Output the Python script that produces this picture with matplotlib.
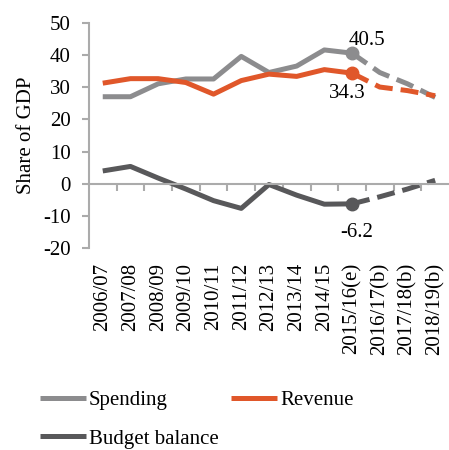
import numpy as np
import matplotlib
matplotlib.use("Agg")
import matplotlib.pyplot as plt

plt.rcParams['font.family'] = ['Liberation Serif', 'DejaVu Serif']
plt.rcParams['font.size'] = 15
plt.rcParams['axes.unicode_minus'] = False

years = ["2006/07", "2007/08", "2008/09", "2009/10", "2010/11", "2011/12",
         "2012/13", "2013/14", "2014/15", "2015/16(e)", "2016/17(b)",
         "2017/18(b)", "2018/19(b)"]
spending = [27.0, 27.0, 31.0, 32.5, 32.5, 39.5, 34.5, 36.5, 41.5, 40.5, 34.5, 31.0, 26.8]
revenue = [31.2, 32.6, 32.6, 31.4, 27.8, 32.0, 34.0, 33.3, 35.4, 34.3, 30.0, 28.9, 27.3]
balance = [4.0, 5.4, 1.8, -1.6, -5.2, -7.6, -0.2, -3.5, -6.3, -6.2, -4.0, -1.6, 1.1]

c_spend = "#8c8c8e"
c_rev = "#e0572a"
c_bal = "#58585a"
c_axis = "#ababab"

split = 9  # 2015/16 onwards is estimate / budget

fig = plt.figure(figsize=(4.49, 4.5), dpi=100)
ax = fig.add_axes([0.198, 0.448, 0.802, 0.502])

x = np.arange(len(years))
lw = 3.6
series = [(spending, c_spend, "Spending"), (revenue, c_rev, "Revenue"),
          (balance, c_bal, "Budget balance")]
handles = []
for vals, col, lab in series:
    h, = ax.plot(x[:split + 1], vals[:split + 1], color=col, lw=lw,
                 solid_capstyle='butt', label=lab)
    ax.plot(x[split:], vals[split:], color=col, lw=lw, dashes=(3.6, 1.6))
    ax.plot(x[split], vals[split], 'o', color=col, ms=9)
    handles.append(h)

ax.annotate(f"{spending[split]:.1f}", (x[split], spending[split]),
            xytext=(11, 9), textcoords='offset points', ha='center', va='center')
ax.annotate(f"{revenue[split]:.1f}", (x[split], revenue[split]),
            xytext=(-3.5, -14.5), textcoords='offset points', ha='center', va='center')
ax.annotate(f"{balance[split]:.1f}", (x[split], balance[split]),
            xytext=(3, -20.5), textcoords='offset points', ha='center', va='center')

ax.set_xlim(-0.5, len(years) - 0.5)
ax.set_ylim(-20, 50)
ax.set_yticks(range(-20, 51, 10))

ax.spines['top'].set_visible(False)
ax.spines['right'].set_visible(False)
ax.spines['bottom'].set_position(('data', 0))
for s in ('left', 'bottom'):
    ax.spines[s].set_color(c_axis)
    ax.spines[s].set_linewidth(1.5)

ax.set_xticks(x)
ax.set_xticklabels(years, rotation=90, va='top')
ax.set_xticks(np.arange(0.5, len(years) - 0.5, 1), minor=True)
ax.tick_params(axis='x', which='major', length=0, pad=57)
ax.tick_params(axis='x', which='minor', length=5, width=1.5, color=c_axis, direction='out')
ax.tick_params(axis='y', length=5, width=1.5, color=c_axis, pad=8)

ax.set_ylabel("Share of GDP", labelpad=5)

fig.legend([handles[0], handles[2], handles[1]],
           ["Spending", "Budget balance", "Revenue"],
           ncol=2, loc='upper left', bbox_to_anchor=(0.089, 0.132),
           frameon=False, borderpad=0, borderaxespad=0,
           handlelength=2.2, handletextpad=0.15, columnspacing=0.6,
           labelspacing=0.9)

fig.savefig("out.png", dpi=100)
